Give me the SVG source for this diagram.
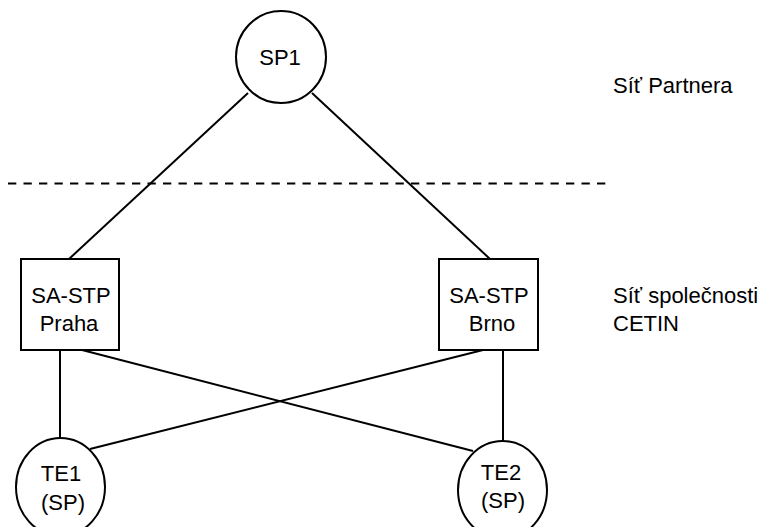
<svg xmlns="http://www.w3.org/2000/svg" width="771" height="527" viewBox="0 0 771 527">
<style>
.n{fill:#fff;stroke:#000;stroke-width:2}
.c{stroke:#000;stroke-width:2;fill:none}
.t{font-family:"Liberation Sans",Arial,sans-serif;font-size:22px;fill:#000;text-anchor:middle}
.l{font-family:"Liberation Sans",Arial,sans-serif;font-size:22px;fill:#000}
</style>
<rect width="771" height="527" fill="#fff"/>
<g id="connectors">
<line class="c" x1="248" y1="93" x2="69" y2="259"/>
<line class="c" x1="312" y1="93" x2="490" y2="259"/>
<line class="c" x1="60" y1="350" x2="60" y2="438"/>
<line class="c" x1="82" y1="350" x2="473" y2="451"/>
<line class="c" x1="483" y1="350" x2="90" y2="449"/>
<line class="c" x1="503" y1="350" x2="503" y2="441"/>
</g>
<line id="boundary" x1="8" y1="183.5" x2="610" y2="183.5" stroke="#000" stroke-width="2" stroke-dasharray="8.3,7.2"/>
<g id="SP1">
<ellipse class="n" cx="281" cy="57" rx="45" ry="46"/>
<text class="t" x="280" y="65">SP1</text>
</g>
<g id="praha">
<rect class="n" x="21" y="259" width="98" height="91"/>
<text class="t" x="71" y="303">SA-STP</text>
<text class="t" x="69" y="331">Praha</text>
</g>
<g id="brno">
<rect class="n" x="439" y="259" width="99" height="91"/>
<text class="t" x="489" y="303">SA-STP</text>
<text class="t" x="492" y="331">Brno</text>
</g>
<g id="TE1">
<ellipse class="n" cx="60.5" cy="487" rx="44.5" ry="49"/>
<text class="t" x="61" y="481">TE1</text>
<text class="t" x="63" y="510">(SP)</text>
</g>
<g id="TE2">
<ellipse class="n" cx="502.5" cy="490" rx="44.5" ry="49"/>
<text class="t" x="501" y="480">TE2</text>
<text class="t" x="503" y="508">(SP)</text>
</g>
<g id="labels">
<text class="l" x="613" y="93">Síť Partnera</text>
<text class="l" x="613" y="303">Síť společnosti</text>
<text class="l" x="613" y="331">CETIN</text>
</g>
</svg>
